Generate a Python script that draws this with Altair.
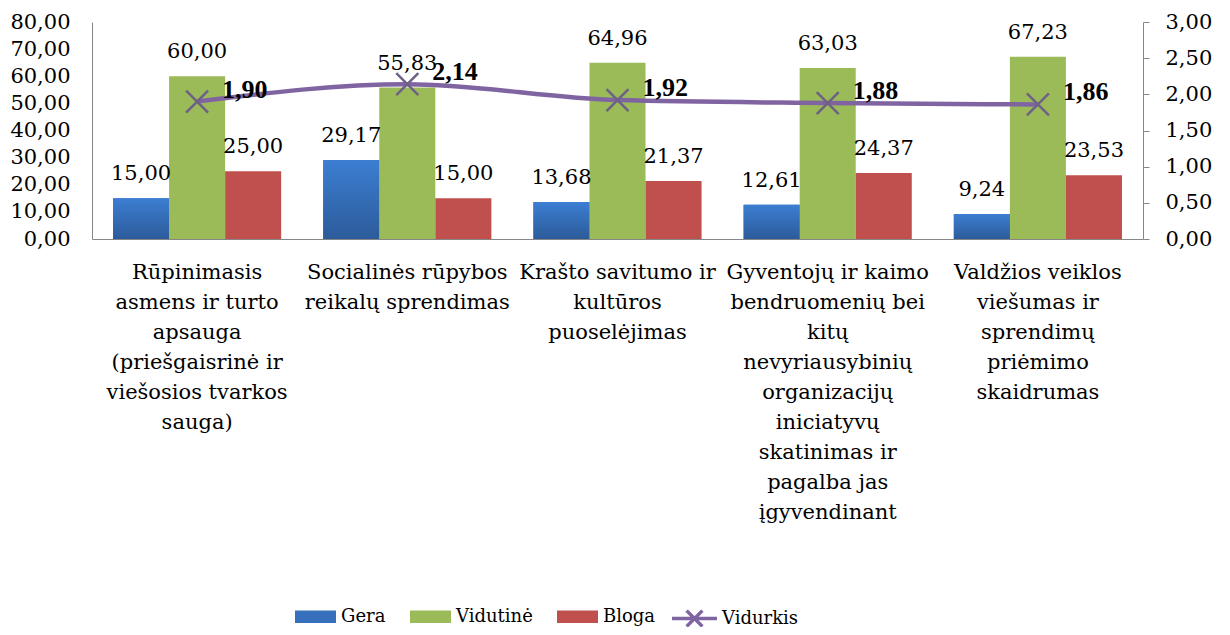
import altair as alt
import pandas as pd

cat_lines = [
    ["Rūpinimasis", "asmens ir turto", "apsauga", "(priešgaisrinė ir", "viešosios tvarkos", "sauga)"],
    ["Socialinės rūpybos", "reikalų sprendimas"],
    ["Krašto savitumo ir", "kultūros", "puoselėjimas"],
    ["Gyventojų ir kaimo", "bendruomenių bei", "kitų", "nevyriausybinių", "organizacijų",
     "iniciatyvų", "skatinimas ir", "pagalba jas", "įgyvendinant"],
    ["Valdžios veiklos", "viešumas ir", "sprendimų", "priėmimo", "skaidrumas"],
]
categories = ["|".join(c) for c in cat_lines]

series_names = ["Gera", "Vidutinė", "Bloga"]
gera = [15.00, 29.17, 13.68, 12.61, 9.24]
vidutine = [60.00, 55.83, 64.96, 63.03, 67.23]
bloga = [25.00, 15.00, 21.37, 24.37, 23.53]
vidurkis = [1.90, 2.14, 1.92, 1.88, 1.86]

left_ticks = [0, 10, 20, 30, 40, 50, 60, 70, 80]
right_ticks = [0, 0.5, 1, 1.5, 2, 2.5, 3]

bar_rows = []
for s, vals in zip(series_names, [gera, vidutine, bloga]):
    for c, v in zip(categories, vals):
        bar_rows.append({"cat": c, "series": s, "value": v})
bars_df = pd.DataFrame(bar_rows)
line_df = pd.DataFrame({"cat": categories, "avg": vidurkis, "name": ["Vidurkis"] * len(categories)})

FONT = "DejaVu Serif"
BOLD_FONT = "Liberation Serif"
GRAY = "#868686"
fmt = "replace(format(datum.value, '.2f'), '.', ',')"

x_enc = alt.X(
    "cat:N",
    sort=categories,
    scale=alt.Scale(domain=categories, paddingInner=0.2, paddingOuter=0.1),
    axis=alt.Axis(
        title=None, labelExpr="split(datum.label, '|')", labelAngle=0,
        labelFont=FONT, labelFontSize=21, labelLineHeight=30, labelColor="black",
        labelPadding=22, ticks=False, tickSize=0, domainColor=GRAY,
        labelLimit=400, labelOverlap=False, labelBaseline="top",
    ),
)

y_left = alt.Y(
    "value:Q",
    scale=alt.Scale(domain=[0, 80], nice=False),
    axis=alt.Axis(
        title=None, values=left_ticks, labelExpr=fmt, grid=False, ticks=False, tickSize=0,
        labelPadding=22, labelFont=FONT, labelFontSize=21, labelColor="black",
        domainColor=GRAY, labelOverlap=False, labelBound=False, labelFlush=False,
    ),
)
y_right = alt.Y(
    "avg:Q",
    scale=alt.Scale(domain=[0, 3], nice=False),
    axis=alt.Axis(
        title=None, orient="right", values=right_ticks, labelExpr=fmt, grid=False,
        tickSize=6, tickColor=GRAY, labelPadding=16, labelFont=FONT, labelFontSize=21,
        labelColor="black", domainColor=GRAY, labelOverlap=False, labelBound=False,
        labelFlush=False,
    ),
)
xoff = alt.XOffset("series:N", sort=series_names, scale=alt.Scale(domain=series_names))

base_bars = alt.Chart(bars_df)

bars = base_bars.mark_bar().encode(
    x=x_enc, xOffset=xoff, y=y_left,
    color=alt.Color(
        "series:N", sort=series_names,
        scale=alt.Scale(domain=series_names, range=["#3670BD", "#9BBB59", "#C0504D"]),
        legend=alt.Legend(
            title=None, orient="none", legendX=203, legendY=574, direction="horizontal",
            symbolType="M-1,-0.3H1V0.3H-1Z", symbolSize=1681, symbolStrokeWidth=0,
            labelFont=FONT, labelFontSize=18, labelColor="black", labelOffset=5,
            columnPadding=24, padding=0,
        ),
    ),
)

gera_overlay = base_bars.transform_filter(alt.datum.series == "Gera").mark_bar(
    fill=alt.Gradient(
        gradient="linear", x1=0, x2=0, y1=0, y2=1,
        stops=[alt.GradientStop(color="#3C7ED2", offset=0),
               alt.GradientStop(color="#2C5B9A", offset=1)],
    )
).encode(x=x_enc, xOffset=xoff, y=y_left)

bar_text = base_bars.transform_calculate(
    lbl="replace(format(datum.value, '.2f'), '.', ',')"
).mark_text(font=FONT, fontSize=21, color="black", baseline="alphabetic", dy=-18).encode(
    x=x_enc, xOffset=xoff, y=y_left, text="lbl:N"
)

left = alt.layer(bars, gera_overlay, bar_text)

base_line = alt.Chart(line_df)
line = base_line.mark_line(strokeWidth=4.5, interpolate="monotone").encode(
    x=x_enc, y=y_right,
    color=alt.Color(
        "name:N",
        scale=alt.Scale(domain=["Vidurkis"], range=["#8064A2"]),
        legend=alt.Legend(
            title=None, orient="none", legendX=578, legendY=572,
            symbolType="M-1,0H1M-0.35,-0.35L0.35,0.35M-0.35,0.35L0.35,-0.35",
            symbolSize=2025, symbolStrokeWidth=3.5,
            labelFont=FONT, labelFontSize=18, labelColor="black", labelOffset=3, padding=0,
        ),
    ),
)
points = base_line.mark_point(
    shape="M-1,-1L1,1M-1,1L1,-1", size=484, filled=False, stroke="#6E6186",
    strokeWidth=2.5, opacity=1,
).encode(x=x_enc, y=y_right)

line_text = base_line.transform_calculate(
    lbl="replace(format(datum.avg, '.2f'), '.', ',')"
).mark_text(
    font=BOLD_FONT, fontSize=26, fontWeight="bold", color="black", align="left",
    baseline="alphabetic", dx=25, dy=-4,
).encode(x=x_enc, y=y_right, text="lbl:N")

right = alt.layer(line, points, line_text)

chart = alt.layer(left, right).resolve_scale(y="independent", color="independent").properties(
    width=1051, height=217,
    autosize=alt.AutoSizeParams(type="none"),
    padding={"left": 84, "top": 14, "right": 79, "bottom": 388},
).configure_view(stroke=None)

chart.save("out.html", embed_options={"renderer": "svg", "actions": False})
